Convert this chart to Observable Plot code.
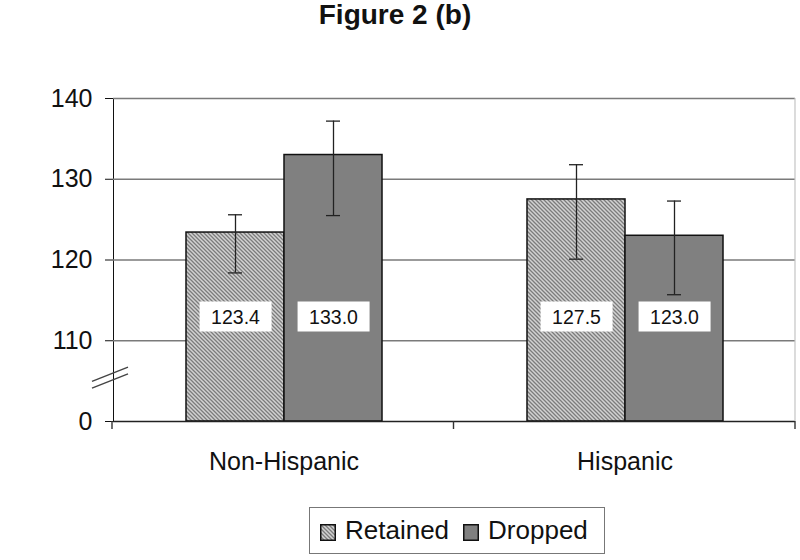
<!DOCTYPE html>
<html>
<head>
<meta charset="utf-8">
<script src="https://cdn.jsdelivr.net/npm/d3@7"></script>
<script src="https://cdn.jsdelivr.net/npm/@observablehq/plot@0.6"></script>
<style>
  body { margin: 0; background: #fff; font-family: "Liberation Sans", Arial, sans-serif; color: #111; }
  #wrap { position: relative; width: 800px; height: 560px; overflow: hidden; }
  #title { position: absolute; left: 0; width: 790px; top: 1px; text-align: center; font-weight: bold; font-size: 28px; line-height: 28px; }
  #ylabel { position: absolute; left: 18px; top: 261px; transform: translate(-50%, -50%) rotate(-90deg); font-weight: bold; font-size: 26px; white-space: nowrap; }
  #chart { position: absolute; left: 0; top: 50px; }
  #legend { position: absolute; left: 309px; top: 507px; width: 284px; height: 45px; border: 1.5px solid #777; display: flex; align-items: center; padding-left: 10px; box-sizing: content-box; }
  #legend .item { display: flex; align-items: center; margin-right: 14px; font-size: 26px; }
  #legend svg { margin-right: 9px; margin-top: 3px; }
</style>
</head>
<body>
<div id="wrap">
  <div id="title">Figure 2 (b)</div>
  <div id="ylabel">Mean QOL</div>
  <div id="chart"></div>
  <div id="legend"></div>
</div>
<script>
// ---- data ----
const groups = ["Non-Hispanic", "Hispanic"];
const series = ["Retained", "Dropped"];
const retainedMean = [123.4, 127.5];
const droppedMean = [133.0, 123.0];
const retainedLow = [118.4, 120.1];
const retainedHigh = [125.6, 131.8];
const droppedLow = [125.5, 115.7];
const droppedHigh = [137.2, 127.3];
// tick labels of the broken axis; "0" sits one step below 110
const yTickLabels = ["0", "110", "120", "130", "140"];
const yTickValues = [100, 110, 120, 130, 140];
const gridValues = [110, 120, 130, 140];
const axisFloor = 100; // scale position standing for 0 across the axis break

const rows = groups.flatMap((g, i) => [
  {group: g, series: series[0], value: retainedMean[i], lo: retainedLow[i], hi: retainedHigh[i]},
  {group: g, series: series[1], value: droppedMean[i], lo: droppedLow[i], hi: droppedHigh[i]}
]);
const labelText = d => d.value.toFixed(1);
const labelSet = new Set(rows.map(labelText));

// ---- layout ----
const W = 800, H = 450, mt = 48, mb = 79, ml = 112, mr = 5;

const hatchFill = "url(#hatch)";
const dropFill = "#808080";

const svg = Plot.plot({
  width: W, height: H,
  marginTop: mt, marginBottom: mb, marginLeft: ml, marginRight: mr,
  style: {fontSize: "25px", fontFamily: "'Liberation Sans', Arial, sans-serif", color: "#111", background: "white", overflow: "visible"},
  fx: {domain: groups, padding: 0, axis: "bottom", label: null, tickSize: 0, tickPadding: 31},
  x: {domain: series, axis: null, paddingInner: 0, paddingOuter: 0.736},
  y: {domain: [axisFloor, 140], ticks: yTickValues, tickFormat: d => yTickLabels[yTickValues.indexOf(d)], tickSize: 8, tickPadding: 13, label: null, line: true},
  color: {domain: series, range: [hatchFill, dropFill]},
  marks: [
    Plot.ruleY(gridValues, {stroke: "#7a7a7a", strokeWidth: 1.3}),
    Plot.barY(rows, {fx: "group", x: "series", y1: () => axisFloor, y2: "value", fill: "series", stroke: "#111", strokeWidth: 1.5}),
    Plot.ruleX(rows, {fx: "group", x: "series", y1: "lo", y2: "hi", stroke: "#222", strokeWidth: 1.3}),
    Plot.tickY(rows, {fx: "group", x: "series", y: "lo", stroke: "#222", strokeWidth: 1.3, insetLeft: 42, insetRight: 42}),
    Plot.tickY(rows, {fx: "group", x: "series", y: "hi", stroke: "#222", strokeWidth: 1.3, insetLeft: 42, insetRight: 42}),
    Plot.text(rows, {fx: "group", x: "series", text: labelText, frameAnchor: "bottom", dy: -98, fontSize: 19.5, fill: "#111"}),
    Plot.ruleY([axisFloor], {stroke: "#222", strokeWidth: 1.6})
  ]
});

document.getElementById("chart").appendChild(svg);
const s = d3.select(svg);

// hatch pattern
const defs = s.insert("defs", ":first-child");
function addHatch(defsSel, id) {
  const pat = defsSel.append("pattern").attr("id", id).attr("patternUnits", "userSpaceOnUse").attr("width", 4).attr("height", 4);
  pat.append("rect").attr("width", 4).attr("height", 4).attr("fill", "#d2d2d2");
  pat.append("path").attr("d", "M-1,-1L5,5M-1,3L1,5M3,-1L5,1").attr("stroke", "#7c7c7c").attr("stroke-width", 1.3);
}
addHatch(defs, "hatch");

// white boxes behind value labels
Array.from(svg.querySelectorAll("text")).filter(t => labelSet.has(t.textContent.trim())).forEach(t => {
  const b = t.getBBox();
  const cx = b.x + b.width / 2, cy = b.y + b.height / 2;
  const bw = 72, bh = 30;
  const r = document.createElementNS("http://www.w3.org/2000/svg", "rect");
  r.setAttribute("x", cx - bw / 2);
  r.setAttribute("y", cy - bh / 2);
  r.setAttribute("width", bw);
  r.setAttribute("height", bh);
  r.setAttribute("fill", "white");
  r.setAttribute("stroke", "none");
  if (t.getAttribute("transform")) r.setAttribute("transform", t.getAttribute("transform"));
  t.parentNode.insertBefore(r, t);
});

// scales for decorations
const fxS = svg.scale("fx");
const yS = svg.scale("y");
const fxScale = d3.scaleBand().domain(fxS.domain).range(fxS.range).paddingInner(fxS.paddingInner || 0).paddingOuter(fxS.paddingOuter || 0);
const yScale = d3.scaleLinear().domain(yS.domain).range(yS.range);
const deco = s.append("g");
const y0 = yScale(axisFloor);
// group boundary ticks on the category axis
const edges = [fxScale.range()[0], ...fxS.domain.map(d => fxScale(d) + fxScale.bandwidth())];
edges.forEach(x => {
  deco.append("line").attr("x1", x).attr("x2", x).attr("y1", y0).attr("y2", y0 + 8).attr("stroke", "#333").attr("stroke-width", 1.4);
});
// faint right border
const xr = fxScale.range()[1];
deco.append("line").attr("x1", xr).attr("x2", xr).attr("y1", yScale(140)).attr("y2", y0).attr("stroke", "#c4c4c4").attr("stroke-width", 1.2);
// axis break marks
const bx = fxScale.range()[0] - 2;
const by = (yScale(axisFloor) + yScale(110)) / 2 - 3;
[-3.4, 3.4].forEach(o => {
  deco.append("line")
    .attr("x1", bx - 18).attr("y1", by + o + 7.2)
    .attr("x2", bx + 18).attr("y2", by + o - 7.2)
    .attr("stroke", "#444").attr("stroke-width", 1.4);
});

// legend
const leg = d3.select("#legend");
const fills = {[series[0]]: "url(#hatchL)", [series[1]]: dropFill};
series.forEach((name, i) => {
  const item = leg.append("div").attr("class", "item");
  const sw = item.append("svg").attr("width", 16).attr("height", 17);
  if (i === 0) addHatch(sw.append("defs"), "hatchL");
  sw.append("rect").attr("x", 0.75).attr("y", 0.75).attr("width", 14.5).attr("height", 15.5)
    .attr("fill", fills[name]).attr("stroke", "#111").attr("stroke-width", 1.5);
  item.append("span").text(name);
});
</script>
</body>
</html>
